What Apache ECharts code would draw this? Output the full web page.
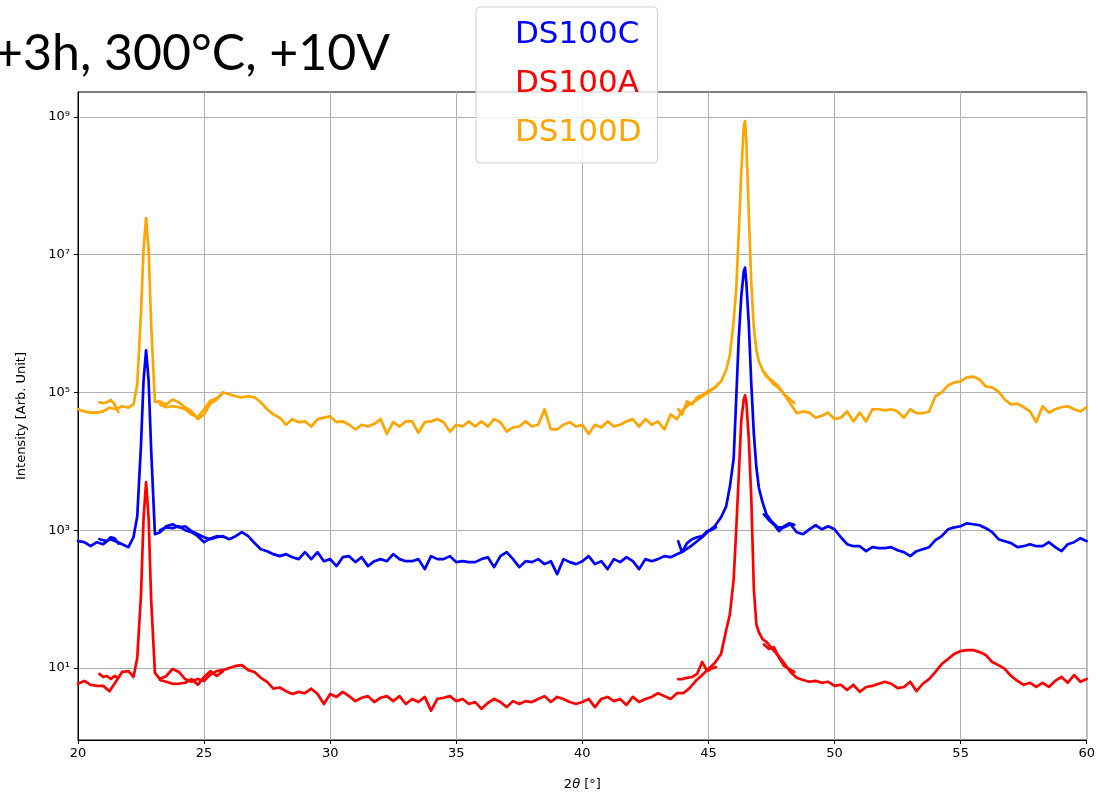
<!DOCTYPE html>
<html><head><meta charset="utf-8">
<script src="https://cdn.jsdelivr.net/npm/echarts@6/dist/echarts.min.js"></script>
<style>html,body{margin:0;padding:0;background:#fff}#c{width:1098px;height:796px}</style>
</head><body><div id="c"></div>
<script>
// ---- data (2theta in degrees, intensity in arb. units) ----
const xMain = [
 20, 20.25, 20.5, 20.75, 21, 21.25, 21.5, 21.75, 22, 22.2,
 22.35, 22.5, 22.6, 22.7, 22.8, 22.9, 23.05, 23.25, 23.5, 23.75,
 24, 24.25, 24.5, 24.75, 25, 25.25, 25.5, 25.75, 26, 26.25,
 26.5, 26.75, 27, 27.25, 27.5, 27.75, 28, 28.25, 28.5, 28.75,
 29, 29.25, 29.5, 29.75, 30, 30.25, 30.5, 30.75, 31, 31.25,
 31.5, 31.75, 32, 32.25, 32.5, 32.75, 33, 33.25, 33.5, 33.75,
 34, 34.25, 34.5, 34.75, 35, 35.25, 35.5, 35.75, 36, 36.25,
 36.5, 36.75, 37, 37.25, 37.5, 37.75, 38, 38.25, 38.5, 38.75,
 39, 39.25, 39.5, 39.75, 40, 40.25, 40.5, 40.75, 41, 41.25,
 41.5, 41.75, 42, 42.25, 42.5, 42.75, 43, 43.25, 43.5, 43.75,
 44, 44.25, 44.5, 44.75, 45, 45.25, 45.5, 45.7, 45.85, 46,
 46.1, 46.2, 46.3, 46.4, 46.45, 46.5, 46.6, 46.7, 46.8, 46.9,
 47, 47.15, 47.3, 47.5, 47.75, 48, 48.25, 48.5, 48.75, 49,
 49.25, 49.5, 49.75, 50, 50.25, 50.5, 50.75, 51, 51.25, 51.5,
 51.75, 52, 52.25, 52.5, 52.75, 53, 53.25, 53.5, 53.75, 54,
 54.25, 54.5, 54.75, 55, 55.25, 55.5, 55.75, 56, 56.25, 56.5,
 56.75, 57, 57.25, 57.5, 57.75, 58, 58.25, 58.5, 58.75, 59,
 59.25, 59.5, 59.75, 60
];
const ds100dMain = [
 5.7e4, 5.3e4, 5.1e4, 5.1e4, 5.3e4, 6.0e4, 5.7e4, 6.3e4, 6.0e4, 6.7e4,
 1.3e5, 1.5e6, 1.2e7, 3.4e7, 1.2e7, 1.0e6, 7.2e4, 7.4e4, 6.7e4, 7.9e4,
 7.2e4, 6.1e4, 5.3e4, 4.1e4, 4.8e4, 6.9e4, 7.9e4, 1.0e5, 9.4e4, 8.8e4,
 8.5e4, 8.8e4, 8.5e4, 7.2e4, 5.7e4, 4.8e4, 4.3e4, 3.4e4, 4.1e4, 3.7e4,
 3.8e4, 3.2e4, 4.1e4, 4.3e4, 4.5e4, 3.7e4, 3.8e4, 3.4e4, 2.9e4, 3.4e4,
 3.2e4, 3.5e4, 4.1e4, 2.5e4, 3.7e4, 3.2e4, 3.8e4, 3.8e4, 2.6e4, 3.7e4,
 3.8e4, 4.1e4, 3.7e4, 2.7e4, 3.4e4, 3.2e4, 3.8e4, 3.2e4, 3.8e4, 3.2e4,
 4.1e4, 3.7e4, 2.7e4, 3.1e4, 3.2e4, 3.8e4, 3.2e4, 3.4e4, 5.7e4, 2.9e4,
 2.9e4, 3.4e4, 3.7e4, 3.2e4, 3.4e4, 2.5e4, 3.4e4, 3.1e4, 3.8e4, 3.2e4,
 3.4e4, 3.8e4, 4.1e4, 3.2e4, 4.1e4, 3.4e4, 3.8e4, 2.9e4, 4.8e4, 4.1e4,
 5.7e4, 6.7e4, 7.6e4, 8.8e4, 1.0e5, 1.18e5, 1.45e5, 2.1e5, 3.5e5, 1.1e6,
 3.1e6, 1.95e7, 1.55e8, 7.2e8, 8.7e8, 4.6e8, 3.9e7, 3.7e6, 8.7e5, 4.2e5,
 2.8e5, 2.1e5, 1.7e5, 1.5e5, 1.26e5, 9.4e4, 6.9e4, 5.0e4, 5.3e4, 5.1e4,
 4.3e4, 4.6e4, 5.1e4, 4.1e4, 4.3e4, 5.3e4, 3.8e4, 5.1e4, 3.8e4, 5.7e4,
 5.7e4, 5.5e4, 5.7e4, 5.3e4, 4.3e4, 5.7e4, 5.0e4, 5.0e4, 5.3e4, 8.8e4,
 1.0e5, 1.26e5, 1.4e5, 1.45e5, 1.65e5, 1.7e5, 1.54e5, 1.22e5, 1.18e5, 1.03e5,
 7.9e4, 6.7e4, 6.9e4, 6.1e4, 5.3e4, 3.7e4, 6.3e4, 5.1e4, 5.7e4, 6.1e4,
 6.3e4, 5.7e4, 5.3e4, 6.1e4
];
const ds100cMain = [
 693, 670, 586, 670, 627, 740, 693, 627, 567, 790,
 1600, 1.8e4, 1.5e5, 4.1e5, 1.5e5, 1.5e4, 875, 935, 1140, 1220,
 1100, 1140, 970, 875, 790, 740, 790, 819, 740, 819,
 935, 819, 650, 530, 496, 449, 420, 449, 406, 380,
 480, 380, 480, 355, 380, 301, 406, 420, 344, 406,
 301, 355, 380, 355, 449, 380, 355, 355, 380, 272,
 420, 380, 380, 420, 344, 355, 344, 344, 380, 406,
 291, 420, 480, 380, 291, 355, 344, 380, 322, 355,
 230, 380, 344, 322, 355, 420, 322, 355, 272, 380,
 344, 406, 355, 272, 380, 355, 380, 420, 406, 449,
 496, 567, 670, 790, 970, 1140, 1540, 2200, 4300, 1.1e4,
 8.0e4, 6.0e5, 2.45e6, 5.7e6, 6.5e6, 4.1e6, 9.7e5, 1.3e5, 2.5e4, 8200,
 4100, 2500, 1700, 1350, 1100, 1100, 1220, 935, 875, 1030,
 1180, 1030, 1140, 1030, 790, 627, 586, 586, 496, 567,
 550, 550, 567, 513, 480, 420, 496, 530, 567, 716,
 819, 1030, 1100, 1140, 1260, 1220, 1180, 1070, 935, 740,
 693, 650, 567, 586, 627, 586, 586, 670, 567, 496,
 627, 670, 765, 693
];
const ds100aMain = [
 5.9, 6.5, 5.7, 5.5, 5.5, 4.6, 6.3, 8.75, 9.0, 7.4,
 14, 120, 1500, 5000, 1500, 100, 8.5, 6.9, 7.65, 9.7,
 8.75, 6.9, 6.3, 6.9, 6.5, 8.0, 9.0, 9.3, 10, 10.7,
 11, 9.3, 8.75, 7.2, 6.3, 5.0, 5.2, 4.6, 4.2, 4.5,
 4.3, 5.0, 4.2, 3.0, 4.2, 3.8, 4.5, 3.9, 3.3, 3.7,
 3.9, 3.2, 3.7, 3.9, 3.3, 3.9, 3.0, 3.55, 3.2, 3.8,
 2.4, 3.55, 3.7, 3.9, 3.3, 3.55, 3.0, 3.2, 2.55, 3.1,
 3.55, 3.2, 2.7, 3.3, 3.0, 3.3, 3.2, 3.55, 3.9, 3.2,
 3.8, 3.55, 3.2, 3.0, 3.2, 3.55, 2.7, 3.55, 3.8, 3.3,
 3.55, 2.9, 3.8, 3.2, 3.55, 3.8, 4.3, 3.9, 3.55, 4.3,
 4.3, 5.1, 6.5, 7.9, 9.7, 11.8, 16, 35, 60, 195,
 1000, 6000, 3.9e4, 7.9e4, 9.1e4, 7.4e4, 2.1e4, 2800, 140, 43,
 33, 26, 24, 19.5, 15.4, 11.8, 8.75, 7.2, 6.7, 6.3,
 6.5, 6.1, 6.3, 5.5, 5.7, 4.8, 5.7, 4.5, 5.3, 5.5,
 5.9, 6.3, 5.9, 5.1, 5.3, 6.3, 4.6, 5.9, 6.9, 8.75,
 11.4, 13.5, 16, 17.6, 18.2, 18.2, 17, 15.4, 12.2, 11,
 9.7, 7.65, 6.5, 5.7, 6.1, 5.3, 6.1, 5.3, 6.5, 7.4,
 6.1, 7.9, 6.3, 6.9
];
// overlapping partial scans
const xScanA = [20.85, 21.0, 21.15, 21.3, 21.45, 21.6];
const xScanB = [23.25, 23.5, 23.75, 24.0, 24.25, 24.5, 24.75, 25.0, 25.25, 25.5, 25.75];
const xScanC = [43.8, 43.95, 44.15, 44.35, 44.55, 44.75, 44.95, 45.1, 45.3];
const xScanD = [47.2, 47.4, 47.6, 47.8, 48.0, 48.2, 48.4];
const ds100dScanA = [7.2e4, 7.0e4, 7.2e4, 7.8e4, 6.7e4, 5.2e4];
const ds100dScanB = [6.7e4, 6.1e4, 6.3e4, 6.1e4, 5.7e4, 4.8e4, 4.4e4, 5.7e4, 7.6e4, 8.2e4, 1.0e5];
const ds100dScanC = [5.7e4, 4.8e4, 7.4e4, 6.7e4, 8.5e4, 9.1e4, 1.03e5, 1.1e5, 1.2e5];
const ds100dScanD = [2.0e5, 1.6e5, 1.3e5, 1.15e5, 9.4e4, 8.2e4, 7.0e4];
const ds100cScanA = [740, 716, 693, 790, 760, 640];
const ds100cScanB = [1000, 1100, 1070, 1140, 1000, 935, 819, 670, 760, 819, 800];
const ds100cScanC = [693, 480, 650, 740, 790, 819, 970, 1000, 1100];
const ds100cScanD = [1700, 1400, 1200, 970, 1140, 1260, 1200];
const ds100aScanA = [8.2, 7.4, 7.65, 6.9, 7.65, 7.2];
const ds100aScanB = [6.7, 6.3, 5.9, 5.9, 6.1, 6.9, 5.7, 7.4, 9.0, 7.65, 9.0];
const ds100aScanC = [6.9, 6.9, 7.2, 7.4, 8.2, 12.2, 9.0, 9.7, 10.3];
const ds100aScanD = [22, 18.9, 20, 14, 10.7, 9.7, 8.75];

const yTickValues = [10, 1e3, 1e5, 1e7, 1e9];
const seriesNames = ['DS100C', 'DS100A', 'DS100D'];
const seriesColors = ['#0000ff', '#ff0000', '#ffa500'];

// ---- build ----
function pairs(xs, ys) { return xs.map((x, i) => [x, ys[i]]); }
const xs = [xMain, xScanA, xScanB, xScanC, xScanD];
const samples = [
  [ds100cMain, ds100cScanA, ds100cScanB, ds100cScanC, ds100cScanD],
  [ds100aMain, ds100aScanA, ds100aScanB, ds100aScanC, ds100aScanD],
  [ds100dMain, ds100dScanA, ds100dScanB, ds100dScanC, ds100dScanD]
];
const series = [];
samples.forEach((arrs, k) => {
  arrs.forEach((ys, j) => {
    series.push({
      name: seriesNames[k], type: 'line', data: pairs(xs[j], ys),
      showSymbol: false, symbol: 'none', smooth: false, animation: false,
      lineStyle: { color: seriesColors[k], width: 2.7, join: 'round', cap: 'round' },
      itemStyle: { color: seriesColors[k] }, z: 3
    });
  });
});
const sup = { '0': '⁰', '1': '¹', '2': '²', '3': '³', '4': '⁴', '5': '⁵', '6': '⁶', '7': '⁷', '8': '⁸', '9': '⁹' };

const chart = echarts.init(document.getElementById('c'), null, { renderer: 'canvas' });
chart.setOption({
  backgroundColor: '#ffffff',
  animation: false,
  title: {
    text: '+3h, 300°C, +10V', left: -6, top: 29, padding: 0,
    textStyle: { fontFamily: 'Lato', fontSize: 50, fontWeight: 'normal', color: '#000' }
  },
  legend: {
    data: seriesNames.map((n, i) => ({ name: n, textStyle: { color: seriesColors[i] } })),
    orient: 'vertical', left: 476, top: 7,
    icon: 'none', itemWidth: 0, itemHeight: 36, itemGap: 13,
    padding: [10, 16, 12, 34],
    backgroundColor: 'rgba(255,255,255,0.8)', borderColor: '#d0d0d0', borderWidth: 1, borderRadius: 4,
    textStyle: { fontFamily: 'DejaVu Sans', fontSize: 31, lineHeight: 36 },
    selectedMode: false, z: 10
  },
  grid: { left: 78, right: 11, top: 92, bottom: 55, show: true, borderColor: '#000', borderWidth: 1, backgroundColor: 'transparent' },
  xAxis: {
    type: 'value', min: 20, max: 60, interval: 5,
    name: '2{i|θ} [°]', nameLocation: 'middle', nameGap: 38,
    nameTextStyle: { fontFamily: 'DejaVu Sans', fontSize: 13, color: '#000', rich: { i: { fontStyle: 'italic', fontFamily: 'DejaVu Sans', fontSize: 13 } } },
    axisLine: { lineStyle: { color: '#000', width: 1 } },
    axisTick: { show: true, inside: false, length: 4, lineStyle: { color: '#000' } },
    axisLabel: { fontFamily: 'DejaVu Sans', fontSize: 13, color: '#000', margin: 7 },
    splitLine: { show: true, lineStyle: { color: '#b0b0b0', width: 1 } }
  },
  yAxis: {
    type: 'log', logBase: 10, min: 0.9, max: 2.3e9,
    name: 'Intensity [Arb. Unit]', nameLocation: 'middle', nameGap: 50,
    nameTextStyle: { fontFamily: 'DejaVu Sans', fontSize: 13, color: '#000' },
    axisLine: { show: true, lineStyle: { color: '#000', width: 1 } },
    axisTick: { show: true, inside: false, length: 4, lineStyle: { color: '#000' }, customValues: yTickValues },
    axisLabel: {
      fontFamily: 'DejaVu Sans', fontSize: 13, color: '#000', margin: 8, customValues: yTickValues,
      formatter: v => { const e = Math.round(Math.log10(v)); return '10' + String(e).split('').map(c => sup[c]).join(''); }
    },
    splitLine: { show: true, lineStyle: { color: '#b0b0b0', width: 1 } }
  },
  series: series
});
</script></body></html>
